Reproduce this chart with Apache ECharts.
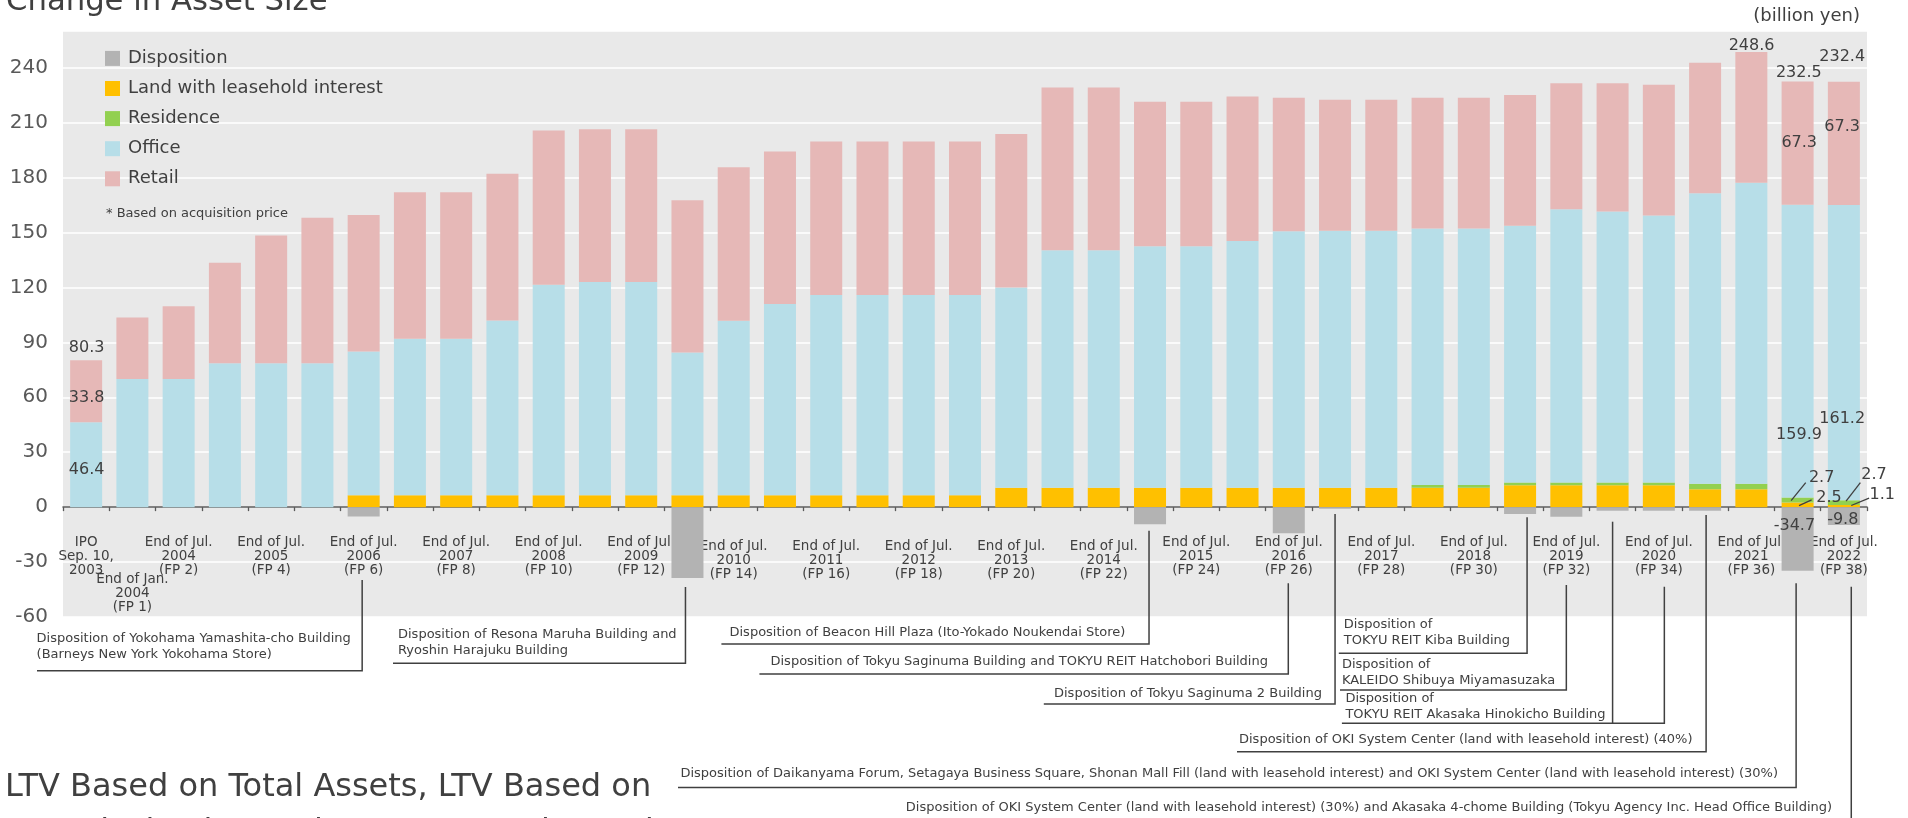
<!DOCTYPE html>
<html>
<head>
<meta charset="utf-8">
<script src="https://cdn.jsdelivr.net/npm/echarts@6/dist/echarts.min.js"></script>
<style>
html,body{margin:0;padding:0;background:#ffffff;}
#c{width:1908px;height:818px;}
</style>
</head>
<body>
<div id="c"></div>
<script>
// ---------- DATA ----------
const categories = ['IPO','FP1','FP2','FP3','FP4','FP5','FP6','FP7','FP8','FP9','FP10','FP11','FP12','FP13','FP14','FP15','FP16','FP17','FP18','FP19','FP20','FP21','FP22','FP23','FP24','FP25','FP26','FP27','FP28','FP29','FP30','FP31','FP32','FP33','FP34','FP35','FP36','FP37','FP38'];
const tickLabels = [
  'IPO\nSep. 10,\n2003', 'End of Jan.\n2004\n(FP 1)', 'End of Jul.\n2004\n(FP 2)', '',
  'End of Jul.\n2005\n(FP 4)', '', 'End of Jul.\n2006\n(FP 6)', '',
  'End of Jul.\n2007\n(FP 8)', '', 'End of Jul.\n2008\n(FP 10)', '',
  'End of Jul.\n2009\n(FP 12)', '', 'End of Jul.\n2010\n(FP 14)', '',
  'End of Jul.\n2011\n(FP 16)', '', 'End of Jul.\n2012\n(FP 18)', '',
  'End of Jul.\n2013\n(FP 20)', '', 'End of Jul.\n2014\n(FP 22)', '',
  'End of Jul.\n2015\n(FP 24)', '', 'End of Jul.\n2016\n(FP 26)', '',
  'End of Jul.\n2017\n(FP 28)', '', 'End of Jul.\n2018\n(FP 30)', '',
  'End of Jul.\n2019\n(FP 32)', '', 'End of Jul.\n2020\n(FP 34)', '',
  'End of Jul.\n2021\n(FP 36)', '', 'End of Jul.\n2022\n(FP 38)'
];
const land = [0,0,0,0,0,0,6.5,6.5,6.5,6.5,6.5,6.5,6.5,6.5,6.5,6.5,6.5,6.5,6.5,6.5,10.6,10.6,10.6,10.6,10.6,10.6,10.6,10.6,10.6,10.6,10.6,12.0,12.0,12.0,12.0,9.8,9.8,2.5,1.1];
const residence = [0,0,0,0,0,0,0,0,0,0,0,0,0,0,0,0,0,0,0,0,0,0,0,0,0,0,0,0,0,1.5,1.5,1.5,1.5,1.5,1.5,2.9,2.9,2.7,2.7];
const office = [46.4,70.0,70.0,78.5,78.5,78.5,78.5,85.4,85.4,95.4,114.9,116.4,116.4,77.9,95.3,104.4,109.3,109.3,109.3,109.3,109.4,129.7,129.7,131.8,131.8,134.7,140.1,140.3,140.3,140.1,140.1,140.1,149.2,147.9,145.8,158.7,164.5,159.9,161.2];
const retail = [33.8,33.5,39.7,55.0,69.8,79.5,74.5,80.1,80.1,80.1,84.2,83.4,83.4,83.2,83.8,83.3,83.8,83.8,83.8,83.8,83.8,88.8,88.8,79.0,79.0,78.9,72.9,71.5,71.5,71.4,71.4,71.5,68.8,70.1,71.3,71.2,71.4,67.3,67.3];
const disposition = [0,0,0,0,0,0,-5.1,0,0,0,0,0,0,-38.7,0,0,0,0,0,0,0,0,0,-9.3,0,0,-14.2,-0.9,0,0,0,-3.8,-5.3,-2.0,-2.0,-2.0,0,-34.7,-9.8];
const totalLabelIndex = [0, 36, 37, 38];
const totalLabelValue = [80.3, 248.6, 232.5, 232.4];
const yMin = -60, yMax = 260, yInterval = 30;

const seriesNames = ['Disposition','Land with leasehold interest','Residence','Office','Retail'];
const colors = {
  'Disposition':'#b3b3b3',
  'Land with leasehold interest':'#ffc000',
  'Residence':'#92d050',
  'Office':'#b7dee8',
  'Retail':'#e6b8b7'
};

// annotation texts (callouts for dispositions)
const annotations = [
  {lines:['Disposition of Yokohama Yamashita-cho Building','(Barneys New York Yokohama Store)'], tx:36.6, ty:638.3, ux:37, uy:670.7, leaders:[[6,-1.5,580]]},
  {lines:['Disposition of Resona Maruha Building and','Ryoshin Harajuku Building'], tx:398, ty:634.3, ux:393, uy:663.3, leaders:[[13,-2,587]]},
  {lines:['Disposition of Beacon Hill Plaza (Ito-Yokado Noukendai Store)'], tx:729.5, ty:632.3, ux:721.4, uy:644, leaders:[[23,-1,530.7]]},
  {lines:['Disposition of Tokyu Saginuma Building and TOKYU REIT Hatchobori Building'], tx:770.5, ty:661.7, ux:759.4, uy:674, leaders:[[26,-0.5,583.3]]},
  {lines:['Disposition of Tokyu Saginuma 2 Building'], tx:1054, ty:693.3, ux:1043.8, uy:704, leaders:[[27,0,514]]},
  {lines:['Disposition of','TOKYU REIT Kiba Building'], tx:1343.8, ty:624.3, ux:1338.8, uy:653.3, leaders:[[31,7,517.3]]},
  {lines:['Disposition of','KALEIDO Shibuya Miyamasuzaka'], tx:1341.9, ty:664.3, ux:1340, uy:690, leaders:[[32,0,585]]},
  {lines:['Disposition of','TOKYU REIT Akasaka Hinokicho Building'], tx:1345.4, ty:699, ux:1341.9, uy:723.3, leaders:[[34,5.5,586.7],[33,0,521.7]]},
  {lines:['Disposition of OKI System Center (land with leasehold interest) (40%)'], tx:1239, ty:740, ux:1237, uy:751.7, leaders:[[35,1,515]]},
  {lines:['Disposition of Daikanyama Forum, Setagaya Business Square, Shonan Mall Fill (land with leasehold interest) and OKI System Center (land with leasehold interest) (30%)'], tx:680.4, ty:773.3, ux:678, uy:787.5, leaders:[[37,-1.5,583.3]]},
  {lines:['Disposition of OKI System Center (land with leasehold interest) (30%) and Akasaka 4-chome Building (Tokyu Agency Inc. Head Office Building)'], tx:905.8, ty:807.3, ux:900, uy:822, leaders:[[38,7.4,586.7]]}
];

// value labels: [kind, index, dx, dy, leader]
const valueLabels = [
  ['total',0,0.5,-12.6],
  ['retail',0,0.5,6.4],
  ['office',0,0.5,5.5],
  ['total',36,0.2,-6.3],
  ['total',37,1.2,-8.6],
  ['total',38,-1.7,-24.5],
  ['retail',37,1.6,-0.2],
  ['retail',38,-1.7,-16.4],
  ['office',37,1.4,84],
  ['office',38,-1.7,66.7],
  ['residence',37,24,-22.5,[-6.5,0.5,8.1,-17.5]],
  ['land',37,31.4,-6.7,[1.4,0.7,14,-5]],
  ['residence',38,30.2,-27.5,[2.2,-1.5,16.5,-20.1]],
  ['land',38,38.4,-11,[7.4,-0.6,25.2,-8]],
  ['disposition',37,-3.2,-13.1],
  ['disposition',38,-1.1,4]
];

// ---------- CHART ----------
const FONT = '"DejaVu Sans", Verdana, sans-serif';
const TXT = '#404040';

const chart = echarts.init(document.getElementById('c'), null, {renderer:'canvas'});

function barSeries(name, data){
  return {
    name: name, type:'bar', stack:'a', data: data, barWidth: 32,
    itemStyle:{color: colors[name]}, silent:true, emphasis:{disabled:true},
    animation:false
  };
}

const option = {
  animation:false,
  textStyle:{fontFamily:FONT},
  grid:{left:63, right:41, top:31, bottom:201, show:true, backgroundColor:'#e9e9e9', borderWidth:0, containLabel:false, outerBoundsMode:'none'},
  legend:{
    orient:'vertical', left:100, top:44.4, icon:'rect', itemWidth:15, itemHeight:15, itemGap:12.1,
    selectedMode:false, data: seriesNames,
    textStyle:{fontSize:18, fontFamily:FONT, color:TXT, lineHeight:17, padding:[0,0,0,3]}
  },
  xAxis:{
    type:'category', data:categories, boundaryGap:true,
    axisLine:{show:true, onZero:true, lineStyle:{color:'#595959', width:1.5}},
    axisTick:{show:true, length:4, lineStyle:{color:'#595959', width:1.3}},
    splitLine:{show:false},
    axisLabel:{
      interval:0, hideOverlap:false, margin:-82, color:TXT,
      formatter:function(v, i){
        const t = tickLabels[i];
        if(!t) return '';
        const body = t.split('\n').map(s => '{a|' + s + '}').join('\n');
        if(i === 1) return '{s1| }\n' + body;
        if(i >= 14 && i <= 22) return '{s2| }\n' + body;
        return body;
      },
      rich:{
        a:{fontSize:13.5, lineHeight:14, fontFamily:FONT, color:TXT, align:'center'},
        s1:{fontSize:1, lineHeight:37},
        s2:{fontSize:1, lineHeight:4.5}
      }
    }
  },
  yAxis:{
    type:'value', min:yMin, max:yMax, interval:yInterval,
    axisLine:{show:false}, axisTick:{show:false},
    splitLine:{show:true, lineStyle:{color:'#ffffff', width:1.5}},
    axisLabel:{fontSize:20, color:'#595959', margin:15, fontFamily:FONT, showMaxLabel:false}
  },
  series:[
    barSeries('Land with leasehold interest', land),
    barSeries('Residence', residence),
    barSeries('Office', office),
    barSeries('Retail', retail),
    barSeries('Disposition', disposition)
  ]
};
chart.setOption(option);

// ---------- LABELS & CALLOUTS (positions from the chart's own scales) ----------
function P(i, v){ return chart.convertToPixel({gridIndex:0}, [i, v]); }
function stackTop(i){ return land[i] + residence[i] + office[i] + retail[i]; }
function anchorOf(kind, i){
  let v;
  if(kind === 'total') v = stackTop(i);
  else if(kind === 'land') v = land[i]/2;
  else if(kind === 'residence') v = land[i] + residence[i]/2;
  else if(kind === 'office') v = land[i] + residence[i] + office[i]/2;
  else if(kind === 'retail') v = land[i] + residence[i] + office[i] + retail[i]/2;
  else v = disposition[i]/2;
  return P(i, v);
}
function textOf(kind, i){
  if(kind === 'total') return totalLabelValue[totalLabelIndex.indexOf(i)].toFixed(1);
  const arr = {land:land, residence:residence, office:office, retail:retail, disposition:disposition}[kind];
  return arr[i].toFixed(1);
}

const g = [];
function txt(x, y, s, size, opts){
  opts = opts || {};
  g.push({type:'text', x:x, y:y, silent:true, z:100,
    style:{text:s, fontSize:size, fontFamily:FONT, fill:opts.fill || TXT,
      align:opts.align || 'left', verticalAlign:opts.va || 'middle'}});
}
function line(pts, w){
  g.push({type:'polyline', silent:true, z:90, shape:{points:pts},
    style:{stroke:'#404040', lineWidth:w || 1.5, fill:null}});
}

valueLabels.forEach(function(L){
  const a = anchorOf(L[0], L[1]);
  txt(a[0] + L[2], a[1] + L[3], textOf(L[0], L[1]), 16, {align:'center'});
  if(L[4]){
    const d = L[4];
    line([[a[0]+d[0], a[1]+d[1]], [a[0]+d[2], a[1]+d[3]]], 1.3);
  }
});

annotations.forEach(function(A){
  A.lines.forEach(function(s, k){ txt(A.tx, A.ty + k*16, s, 13); });
  A.leaders.forEach(function(Ld, k){
    const x = P(Ld[0], 0)[0] + Ld[1];
    if(k === 0) line([[A.ux, A.uy], [x, A.uy], [x, Ld[2]]], 1.5);
    else line([[x, A.uy], [x, Ld[2]]], 1.5);
  });
});

// titles & notes
txt(6, 2.5, 'Change in Asset Size', 30.7);
txt(1860, 16, '(billion yen)', 18, {align:'right'});
txt(106, 214, '* Based on acquisition price', 13);
txt(5, 787.5, 'LTV Based on Total Assets, LTV Based on', 32);
txt(5, 833, 'Appraisal Value and Interest-Bearing Debt', 32);

chart.setOption({graphic:{elements:g}});
</script>
</body>
</html>
